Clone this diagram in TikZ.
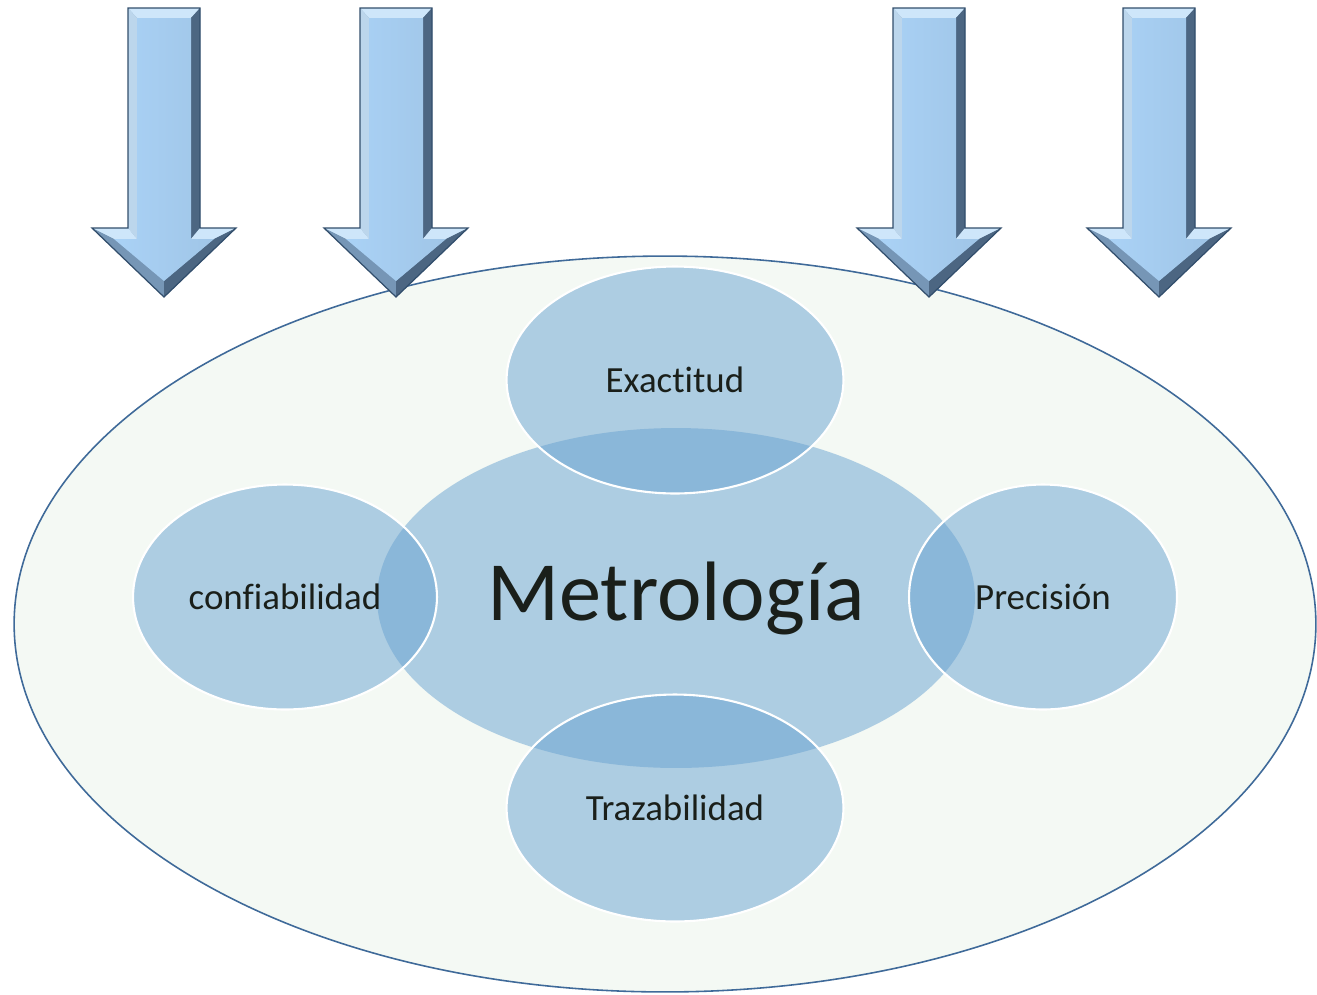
\documentclass[tikz,border=0pt]{standalone}
\usepackage{fontspec}
\setmainfont{Carlito}[Ligatures=NoCommon]
\usepackage{tikz}
\usetikzlibrary{shapes.geometric, positioning, calc}
\definecolor{fieldgreen}{RGB}{244, 249, 244}
\definecolor{fieldline}{RGB}{63, 106, 153}
\definecolor{bubbleblue}{RGB}{104, 162, 209}
\definecolor{inktext}{RGB}{26, 31, 26}
\definecolor{arrowface}{RGB}{170, 210, 246}
\definecolor{arrowlight}{RGB}{206, 230, 250}
\definecolor{arrowmid}{RGB}{118, 150, 182}
\definecolor{arrowdark}{RGB}{76, 102, 130}
\definecolor{arrowline}{RGB}{50, 78, 108}

\tikzset{
  bubble/.style={ellipse, inner sep=0pt, fill=bubbleblue, fill opacity=0.5,
    text opacity=1, text=inktext, font=\fontsize{21}{25}\selectfont},
  satellite/.style={bubble, draw=white, line width=1.2pt}
}

\begin{document}
\begin{tikzpicture}[x=0.02cm, y=-0.02cm]
  \useasboundingbox (0,0) rectangle (1317,994);

  % Outer field
  \node[ellipse, draw=fieldline, fill=fieldgreen, line width=0.9pt, inner sep=0pt,
    minimum width=26.04cm, minimum height=14.72cm] (field) at (665,624) {};

  % Core and satellites
  \node[bubble, minimum width=11.96cm, minimum height=6.8cm,
    font=\fontsize{48}{52}\selectfont] (core) at (676,598) {Metrología};
  \node[satellite, minimum width=6.74cm, minimum height=4.54cm] (exact) at (675,380) {Exactitud};
  \node[satellite, minimum width=6.74cm, minimum height=4.54cm] (traza) at (675,808) {Trazabilidad};
  \node[satellite, minimum width=6.08cm, minimum height=4.5cm] (confi) at (285,597) {confiabilidad};
  \node[satellite, minimum width=5.36cm, minimum height=4.5cm] (preci) at (1043,597) {Precisión};

  % Bevelled down arrows
  \foreach \ax in {164,396,929,1159} {
    \fill[arrowmid] (\ax-36,8) -- (\ax+36,8) -- (\ax+36,228) -- (\ax+72,228)
      -- (\ax,297) -- (\ax-72,228) -- (\ax-36,228) -- cycle;
    \fill[arrowlight] (\ax-36,8) -- (\ax+36,8) -- (\ax+27,18) -- (\ax-27,18) -- cycle;
    \fill[arrowlight!80!arrowmid] (\ax-36,8) -- (\ax-27,18) -- (\ax-27,239) -- (\ax-36,228) -- cycle;
    \fill[arrowdark] (\ax+36,8) -- (\ax+36,228) -- (\ax+27,239) -- (\ax+27,18) -- cycle;
    \fill[arrowlight] (\ax-36,228) -- (\ax-72,228) -- (\ax-50,239) -- (\ax-27,239) -- cycle;
    \fill[arrowlight] (\ax+36,228) -- (\ax+72,228) -- (\ax+50,239) -- (\ax+27,239) -- cycle;
    \fill[arrowmid] (\ax-72,228) -- (\ax,297) -- (\ax,281) -- (\ax-50,239) -- cycle;
    \fill[arrowdark] (\ax+72,228) -- (\ax,297) -- (\ax,281) -- (\ax+50,239) -- cycle;
    \shade[left color=arrowface, middle color=arrowface!75!white, right color=arrowface!94!black]
      (\ax-27,18) -- (\ax+27,18) -- (\ax+27,239) -- (\ax+50,239)
      -- (\ax,281) -- (\ax-50,239) -- (\ax-27,239) -- cycle;
    \draw[arrowline, line width=0.7pt, line join=miter] (\ax-36,8) -- (\ax+36,8) -- (\ax+36,228)
      -- (\ax+72,228) -- (\ax,297) -- (\ax-72,228) -- (\ax-36,228) -- cycle;
  }
\end{tikzpicture}
\end{document}
